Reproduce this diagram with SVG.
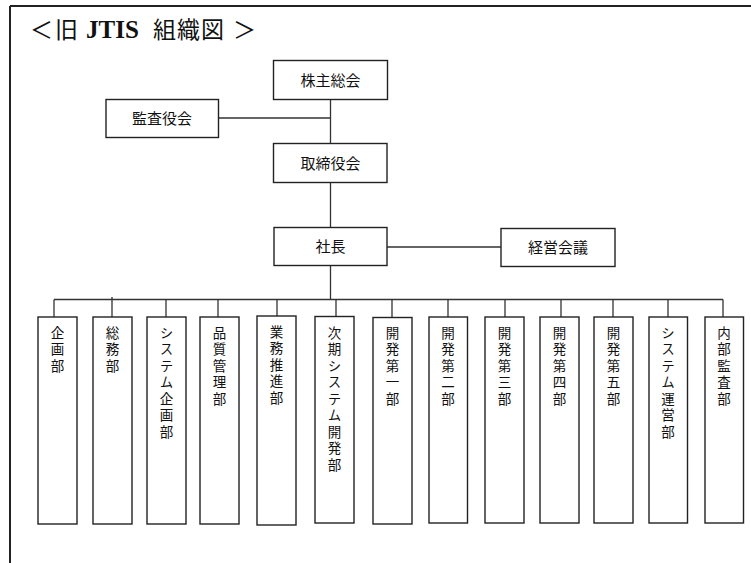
<svg xmlns="http://www.w3.org/2000/svg" width="751" height="563" viewBox="0 0 751 563">
<style>
.box{fill:#fff;stroke:#222;stroke-width:1.4}
.ln{stroke:#333;stroke-width:1.3;fill:none}
.lbl{font-family:"Noto Sans CJK JP","Noto Sans",sans-serif;font-size:15px;fill:#111;text-anchor:middle}
.v{font-family:"Noto Sans CJK JP","Noto Sans",sans-serif;font-size:13.5px;fill:#111;writing-mode:vertical-rl;letter-spacing:3px}
.title{font-family:"Liberation Serif","Noto Sans CJK JP",serif;font-size:23px;fill:#111}
.title .en{font-size:25px;font-weight:bold}
</style>
<rect width="751" height="563" fill="#fff"/>
<g id="frame">
<path d="M10,6 H751 M10,6 V563" stroke="#222" stroke-width="2" fill="none"/>
<text class="title" y="38"><tspan x="30">＜</tspan><tspan x="55">旧</tspan><tspan class="en" x="86">JTIS</tspan><tspan x="153" letter-spacing="1">組織図</tspan><tspan x="233">＞</tspan></text>
</g>
<g id="connectors">
<path class="ln" d="M330.5,99 V143 M218,118 H330.5 M330.5,182 V227 M387,247 H501 M330.5,265 V299.5 M54,299.5 H723"/>
<path class="ln" d="M54,299.5 V317 M112,297 V317 M166,299.5 V317 M218,299.5 V317 M277,299.5 V316 M336,299.5 V317 M392,299.5 V317 M448,299.5 V317 M505,299.5 V317 M561,299.5 V317 M613,299.5 V317 M668,299.5 V317 M723,299.5 V317"/>
</g>
<g id="n-kabunushi"><rect class="box" x="273.5" y="60.5" width="114" height="39"/><text class="lbl" x="330.5" y="85.5">株主総会</text></g>
<g id="n-kansayaku"><rect class="box" x="106" y="99.5" width="112.5" height="38"/><text class="lbl" x="162" y="124">監査役会</text></g>
<g id="n-torishimari"><rect class="box" x="273.5" y="143.5" width="113.5" height="39"/><text class="lbl" x="330.5" y="168.5">取締役会</text></g>
<g id="n-shacho"><rect class="box" x="274" y="227.5" width="113" height="38"/><text class="lbl" x="330.5" y="252">社長</text></g>
<g id="n-keiei"><rect class="box" x="501" y="228.5" width="114" height="38"/><text class="lbl" x="558" y="253">経営会議</text></g>
<g id="d1"><rect class="box" x="38" y="317" width="39" height="207"/><text class="v" x="57.5" y="326">企画部</text></g>
<g id="d2"><rect class="box" x="93" y="317" width="39" height="207"/><text class="v" x="112.5" y="326">総務部</text></g>
<g id="d3"><rect class="box" x="147" y="317" width="39" height="207"/><text class="v" x="166.5" y="326">システム企画部</text></g>
<g id="d4"><rect class="box" x="200" y="317" width="39" height="207"/><text class="v" x="219.5" y="326">品質管理部</text></g>
<g id="d5"><rect class="box" x="257" y="316" width="39" height="209"/><text class="v" x="276.5" y="325">業務推進部</text></g>
<g id="d6"><rect class="box" x="315" y="316.5" width="39" height="206.5"/><text class="v" x="334.5" y="326">次期システム開発部</text></g>
<g id="d7"><rect class="box" x="373" y="317.5" width="39" height="206.5"/><text class="v" x="392.5" y="326">開発第一部</text></g>
<g id="d8"><rect class="box" x="429" y="317" width="38.5" height="206"/><text class="v" x="448" y="326">開発第二部</text></g>
<g id="d9"><rect class="box" x="485" y="317" width="39" height="206"/><text class="v" x="504.5" y="326">開発第三部</text></g>
<g id="d10"><rect class="box" x="540" y="317" width="39" height="206"/><text class="v" x="559.5" y="326">開発第四部</text></g>
<g id="d11"><rect class="box" x="594" y="317" width="39" height="206"/><text class="v" x="613.5" y="326">開発第五部</text></g>
<g id="d12"><rect class="box" x="649" y="317" width="38.5" height="206"/><text class="v" x="668" y="326">システム運営部</text></g>
<g id="d13"><rect class="box" x="705" y="317" width="38.5" height="206"/><text class="v" x="724" y="326">内部監査部</text></g>
</svg>
